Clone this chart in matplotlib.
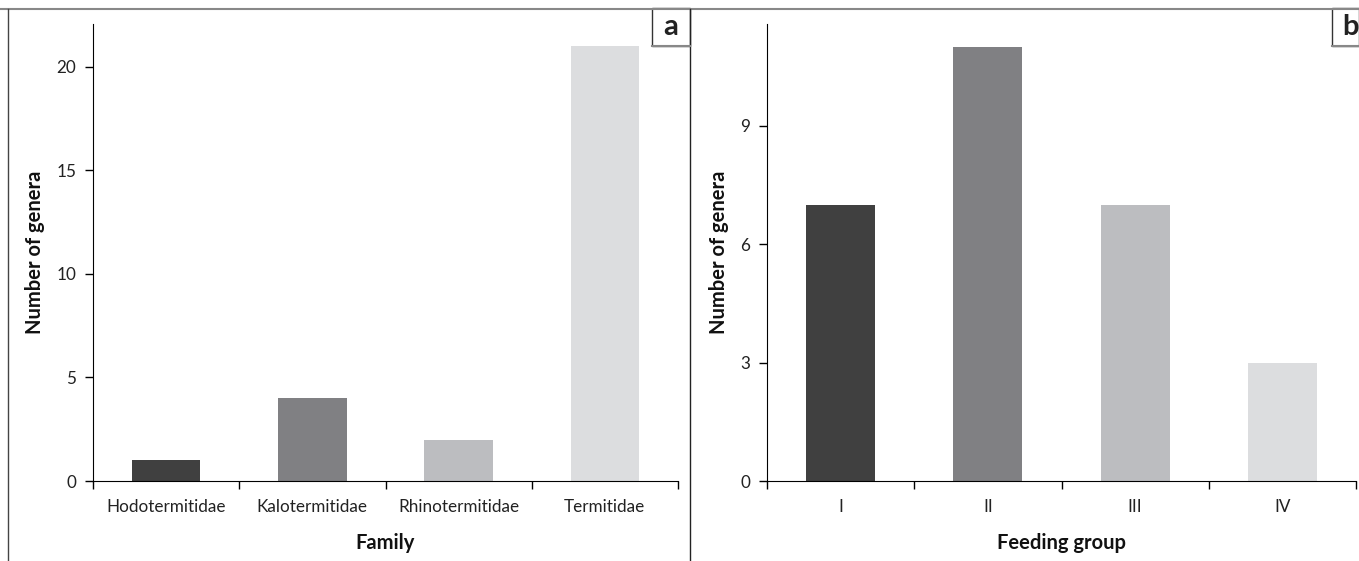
import matplotlib.pyplot as plt
from matplotlib.patches import Rectangle
from matplotlib.lines import Line2D

# Data
families = ["Hodotermitidae", "Kalotermitidae", "Rhinotermitidae", "Termitidae"]
family_counts = [1, 4, 2, 21]

groups = ["I", "II", "III", "IV"]
group_counts = [7, 11, 7, 3]

colors = ["#404040", "#808083", "#bcbdc0", "#dcdddf"]

plt.rcParams["font.family"] = ["Lato", "DejaVu Sans"]
W, H = 1359, 561
fig = plt.figure(figsize=(W / 100, H / 100), dpi=100)


def px_axes(left, right, bottom, top):
    return fig.add_axes([left / W, (H - bottom) / H, (right - left) / W, (bottom - top) / H])


def style(ax, cats, vals, ymax, yticks, xlabel):
    x = range(len(cats))
    ax.bar(x, vals, width=0.47, color=colors)
    ax.set_xlim(-0.5, len(cats) - 0.5)
    ax.set_ylim(0, ymax)
    ax.set_yticks(yticks)
    ax.set_xticks(x)
    ax.set_xticklabels(cats)
    ax.set_xticks([i - 0.5 for i in range(len(cats) + 1)], minor=True)
    ax.tick_params(axis="x", which="major", length=0, pad=13, labelsize=12.3)
    ax.tick_params(axis="x", which="minor", length=6, direction="out", width=1)
    ax.tick_params(axis="y", length=6, direction="out", width=1, labelsize=12.3, pad=6)
    for lab in ax.get_xticklabels() + ax.get_yticklabels():
        lab.set_color("#222222")
    ax.spines["top"].set_visible(False)
    ax.spines["right"].set_visible(False)
    ax.set_xlabel(xlabel, fontsize=14.5, fontweight="bold", labelpad=13, color="#111111")
    ax.set_ylabel("Number of genera", fontsize=14.5, fontweight="bold", labelpad=8, color="#111111")


ax1 = px_axes(93, 678, 481, 24)
style(ax1, families, family_counts, 22.07, [0, 5, 10, 15, 20], "Family")

ax2 = px_axes(767, 1356, 481, 24)
style(ax2, groups, group_counts, 11.57, [0, 3, 6, 9], "Feeding group")


# Panel frame lines
def fline(x0, y0, x1, y1, color="#555555", lw=1.2):
    fig.add_artist(Line2D([x0 / W, x1 / W], [(H - y0) / H, (H - y1) / H],
                          color=color, lw=lw, transform=fig.transFigure))


fline(0, 8.5, W, 8.5, color="#888888", lw=1.5)
fline(8, 8.5, 8, H, color="#444444", lw=1)
fline(690, 8.5, 690, H, color="#222222", lw=1)

# Panel letter boxes
for x0, x1, letter in [(652, 690, "a"), (1332, 1359, "b")]:
    fig.add_artist(Rectangle((x0 / W, (H - 46) / H), (x1 - x0) / W, 37.5 / H,
                             transform=fig.transFigure, facecolor="white",
                             edgecolor="#333333", lw=1))
    fline(x0, 46, x1, 46, color="#888888", lw=1.5)
    fig.text((x0 + 19) / W, (H - 27) / H, letter, fontsize=21, fontweight="bold",
             ha="center", va="center", color="#222222")

fig.savefig("out.png", dpi=100)
